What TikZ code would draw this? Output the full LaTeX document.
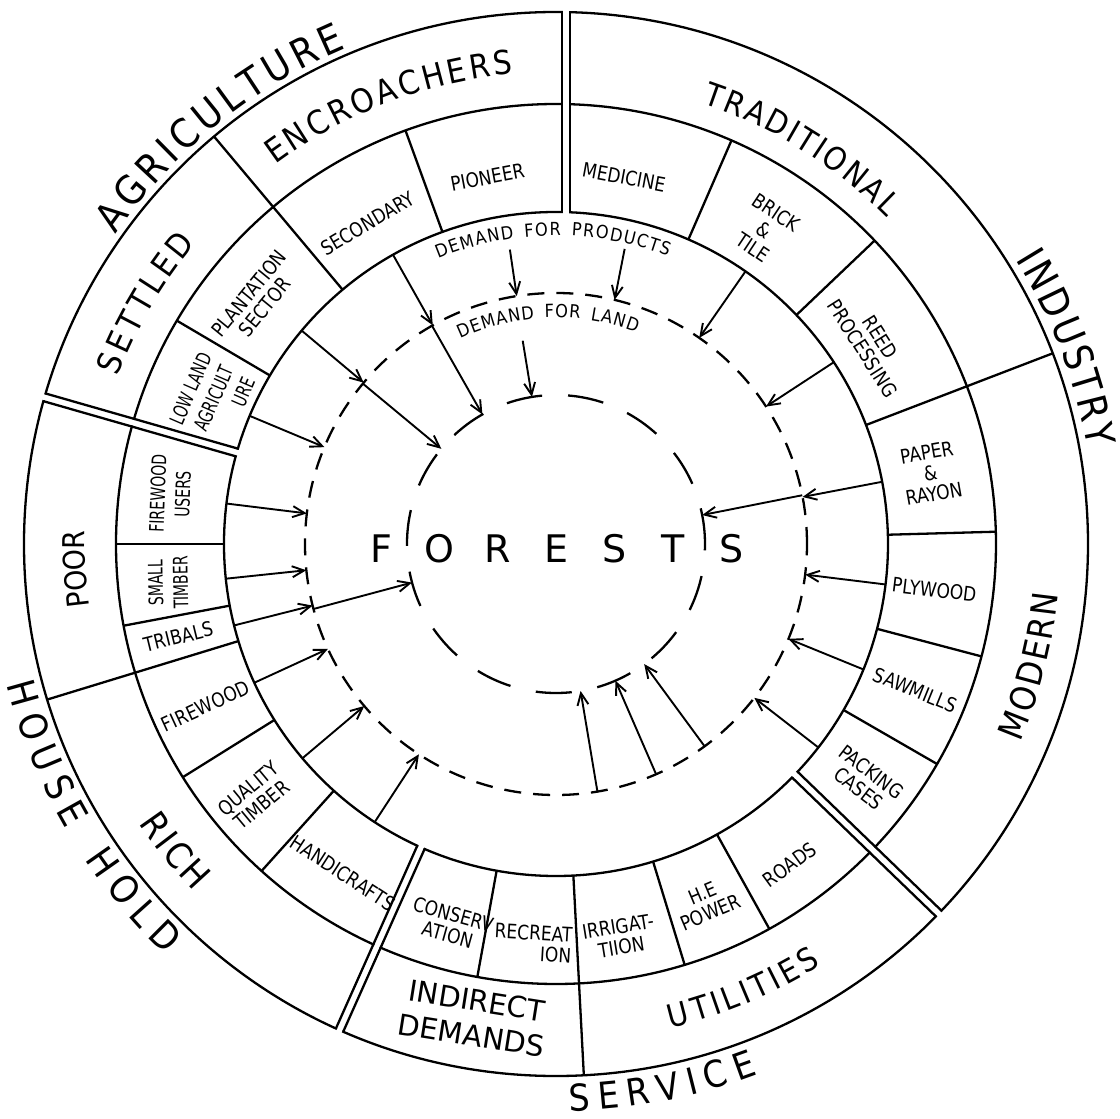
\documentclass[tikz,border=0pt]{standalone}
\usepackage{fontspec}
\setmainfont{DejaVu Sans}
\newfontfamily\lblfont[FakeStretch=0.85]{DejaVu Sans}
\newfontfamily\narrowfont[FakeStretch=0.7]{DejaVu Sans}
\newfontfamily\arcfont[FakeStretch=0.9]{DejaVu Sans}
\usetikzlibrary{arrows.meta}
% advance widths (em) of the capitals of DejaVu Sans; the blank counts 0.5
\newcommand\setaw[2]{\expandafter\def\csname aw#1\endcsname{#2}}
\setaw{A}{0.684}\setaw{C}{0.698}\setaw{D}{0.770}\setaw{E}{0.632}\setaw{F}{0.575}
\setaw{G}{0.775}\setaw{H}{0.752}\setaw{I}{0.295}\setaw{L}{0.557}\setaw{M}{0.863}
\setaw{N}{0.748}\setaw{O}{0.787}\setaw{P}{0.603}\setaw{R}{0.695}\setaw{S}{0.635}
\setaw{T}{0.611}\setaw{U}{0.732}\setaw{V}{0.684}\setaw{Y}{0.611}\setaw{}{0.5}
% letters set one by one along a circle
% #1 radius of letter centres, #2 centre angle, #3 extra letter spacing (pt), #4 font size,
% #5 = 1 read clockwise (tops outward) / -1 read counter-clockwise (tops inward),
% #6 letters, #7 name prefix
\newcommand\arcword[7]{%
  \gdef\arctot{0}%
  \foreach \ch in {#6}{%
    \pgfmathsetmacro\arctmp{\arctot+#4*0.9*\csname aw\ch\endcsname+#3}\xdef\arctot{\arctmp}}%
  \pgfmathsetmacro\arclen{\arctot-#3}%
  \gdef\arcpos{0}%
  \foreach \ch [count=\i] in {#6}{%
    \pgfmathsetmacro\arcwv{#4*0.9*\csname aw\ch\endcsname}%
    \pgfmathsetmacro\arcmid{\arcpos+\arcwv/2}%
    \pgfmathsetmacro\arcth{#2-(#5)*deg((\arcmid-\arclen/2)/#1)}%
    \pgfmathsetmacro\arcrt{\arcth-(#5)*90}%
    \node[rotate=\arcrt,inner sep=0pt,font=\arcfont\fontsize{#4}{#4}\selectfont]
      (#7\i) at (\arcth:#1) {\vphantom{H}\ch};
    \pgfmathsetmacro\arctmp{\arcpos+\arcwv+#3}\xdef\arcpos{\arctmp}}}
\begin{document}
\begin{tikzpicture}[x=1pt,y=1pt,line width=2.3pt,
  arr/.style={line width=1.9pt,-{Straight Barb[length=12pt,width=11pt]}},
  lab/.style={font=\lblfont\fontsize{20}{21}\selectfont,align=center,inner sep=0pt},
  labn/.style={font=\narrowfont\fontsize{20}{25}\selectfont,align=center,inner sep=0pt},
  gap/.style={white,line width=5.6pt}]
\useasboundingbox (-556,-575) rectangle (564,544);
\fill[white] (-556,-575) rectangle (564,544);
\coordinate (c) at (0,0);

% solid rings
\draw (c) circle[radius=332];
\draw (c) circle[radius=440];
\draw (c) circle[radius=532];

% dividers through both rings
\foreach \a in {130,21,-87,-163} \draw (\a:332) -- (\a:532);
% dividers of the inner ring
\foreach \a in {110,149.5,66.5,43.6,1.6,-14.8,-30,-61,-73,-100.3,-132,-148,-169.3,180}
  \draw (\a:332) -- (\a:440);

% double lines between the four sectors
\foreach \a in {164,-44,-114}{
  \begin{scope}[rotate=\a]
    \draw[gap] (328,0) -- (537,0);
    \draw (332,4) -- (532,4) (332,-4) -- (532,-4);
  \end{scope}}
\draw[gap] (10,328) -- (10,537);
\draw (6,332) -- (6,532) (14,332) -- (14,532);

% dashed circles
\draw[dash pattern=on 17pt off 12pt] (c) circle[radius=251];
\draw[dash pattern=on 36pt off 26pt] (c) circle[radius=149];

% arrows from the boxes to the demand-for-land circle
\foreach \a [count=\i] in {119.4,140,157.3,173,186,194.2,204.7,220.2,236.9,-37.8,-22.2,-7,10.8,33.2,55.2}{
  \coordinate (o\i) at (\a:332);
  \coordinate (m\i) at (\a:251);
  \draw[arr] (o\i) -- (m\i);}
% arrows from the demand-for-land circle to the forests
\foreach \a [count=\i] in {119.6,140.3,195,11.2,-80.5,-66.5,-53.7}{
  \coordinate (p\i) at (\a:251);
  \coordinate (q\i) at (\a:149);
  \draw[arr] (p\i) -- (q\i);}
\coordinate (dpa) at (98.9:298);  \coordinate (dpb) at (99:251);
\coordinate (dpc) at (76.9:303);  \coordinate (dpd) at (76.5:251);
\coordinate (dla) at (99.3:206);  \coordinate (dlb) at (99.3:149);
\draw[arr] (dpa) -- (dpb);
\draw[arr] (dpc) -- (dpd);
\draw[arr] (dla) -- (dlb);

% sector titles outside
\arcword{553}{128.9}{5.2}{40}{1}{A,G,R,I,C,U,L,T,U,R,E}{agr}
\arcword{555}{21.0}{3.65}{40}{1}{I,N,D,U,S,T,R,Y}{ind}
\arcword{553}{210.4}{8.25}{38}{-1}{H,O,U,S,E,{},H,O,L,D}{hh}
\arcword{554}{-78.9}{7.75}{37}{-1}{S,E,R,V,I,C,E}{ser}

% outer ring boxes
\arcword{484}{110.85}{3.7}{33}{1}{E,N,C,R,O,A,C,H,E,R,S}{enc}
\arcword{481}{149.6}{4.45}{33}{1}{S,E,T,T,L,E,D}{set}
\arcword{476}{58.1}{2.95}{32}{1}{T,R,A,D,I,T,I,O,N,A,L}{tra}
\arcword{492}{-14.4}{1.8}{35}{-1}{M,O,D,E,R,N}{mod}
\arcword{486}{-67.2}{3.3}{32}{-1}{U,T,I,L,I,T,I,E,S}{uti}
\arcword{489}{218.85}{2.25}{36}{-1}{R,I,C,H}{ric}
\arcword{482}{183}{0}{30}{1}{P,O,O,R}{poo}
\node[font=\fontsize{29}{35}\selectfont,align=center,inner sep=0pt,rotate=-9]
  (indirect) at (-99.8:481) {INDIRECT\\DEMANDS};

% inner ring boxes
\node[lab,rotate=10.6] (pioneer) at (100.6:373) {PIONEER};
\node[lab,rotate=30.4] (secondary) at (120.4:372) {SECONDARY};
\node[lab,rotate=50.8] (plantation) at (140.8:386) {PLANTATION\\SECTOR};
\node[labn,rotate=66.6] (lowland) at (157:372)
  {LOW LAND\\AGRICULT\\\hspace*{36pt}URE};
\node[labn,rotate=88] (fwusers) at (172.6:389) {FIREWOOD\\USERS};
\node[labn,rotate=91] (smalltimber) at (185.7:390) {SMALL\\TIMBER};
\node[lab,rotate=13.8] (tribals) at (193.8:389) {TRIBALS};
\node[lab,rotate=24.8] (firewood) at (204.8:386) {FIREWOOD};
\node[lab,rotate=39.7] (quality) at (220:393) {QUALITY\\TIMBER};
\node[lab,rotate=-32.9] (handicrafts) at (237.1:392) {HANDICRAFTS};
\node[lab,rotate=-15.5] (conserv) at (-105.5:395) {CONSERV\\ATION};
\node[lab,rotate=-3.3,align=right] (recreat) at (-93.3:400) {RECREAT\\ION};
\node[lab,rotate=9.2] (irrig) at (-80.8:398) {IRRIGAT-\\TIION};
\node[lab,rotate=22.8] (hepower) at (-67.2:389) {H.E\\POWER};
\node[lab,rotate=36.1] (roads) at (-53.9:397) {ROADS};
\node[lab,rotate=-37.4] (packing) at (-37.4:389) {PACKING\\CASES};
\node[lab,rotate=-22.1] (sawmills) at (-22.1:388) {SAWMILLS};
\node[lab,rotate=-6.9] (plywood) at (-6.9:381) {PLYWOOD};
\node[lab,rotate=10] (paper) at (10.7:381) {PAPER\\\&\\RAYON};
\node[lab,rotate=-57.5] (reed) at (32.5:374) {REED\\PROCESSING};
\node[lab,rotate=-33.6] (brick) at (56.4:377) {BRICK\\\&\\TILE};
\node[lab,rotate=-10.5] (medicine) at (79.5:373) {MEDICINE};

% demand texts
\arcword{315}{90.6}{1.6}{18}{1}{D,E,M,A,N,D,{},F,O,R,{},P,R,O,D,U,C,T,S}{dfp}
\arcword{233}{92.1}{1.4}{18}{1}{D,E,M,A,N,D,{},F,O,R,{},L,A,N,D}{dfl}

% centre
\node[font=\fontsize{38}{38}\selectfont,inner sep=0pt] (forests) at (0.5,-4.5)
  {\makebox[58.5pt]{F}\makebox[58.5pt]{O}\makebox[58.5pt]{R}\makebox[58.5pt]{E}\makebox[58.5pt]{S}\makebox[58.5pt]{T}\makebox[58.5pt]{S}};
\end{tikzpicture}
\end{document}
